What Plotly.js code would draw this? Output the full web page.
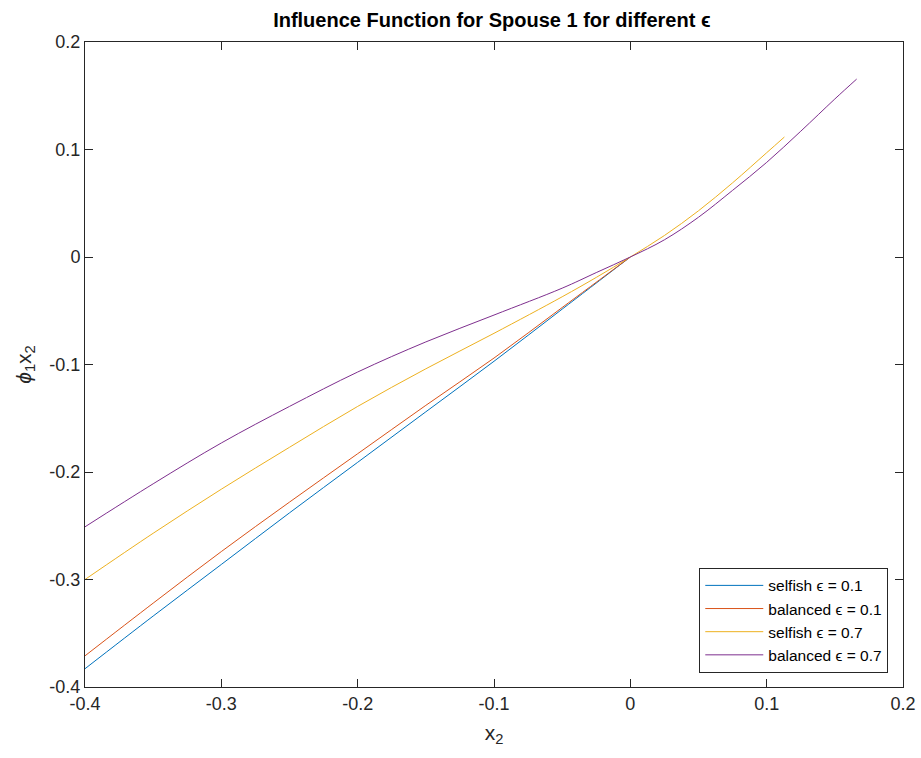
<!DOCTYPE html>
<html>
<head>
<meta charset="utf-8">
<script src="https://cdn.plot.ly/plotly-3.0.1.min.js"></script>
<style>html,body{margin:0;padding:0;background:#fff;}#chart{width:921px;height:758px;}</style>
</head>
<body>
<div id="chart"></div>
<script>
// ---- data ----
const xLeft = [-0.4, -0.35, -0.3, -0.25, -0.2, -0.15, -0.1, -0.05, 0];
const selfish01 = [-0.383, -0.334, -0.286, -0.238, -0.191, -0.144, -0.097, -0.0485, 0];
const balanced01 = [-0.371, -0.322, -0.274, -0.228, -0.183, -0.138, -0.094, -0.047, 0];

const xSelfish07 = [-0.4, -0.35, -0.3, -0.25, -0.2, -0.15, -0.1, -0.05, -0.025, 0, 0.025, 0.05, 0.075, 0.1, 0.113];
const selfish07 = [-0.300, -0.257, -0.216, -0.177, -0.139, -0.104, -0.071, -0.037, -0.019, 0, 0.020, 0.043, 0.069, 0.097, 0.1116];

const xBalanced07 = [-0.4, -0.35, -0.3, -0.25, -0.2, -0.15, -0.1, -0.05, -0.025, 0, 0.025, 0.05, 0.075, 0.1, 0.125, 0.15, 0.166];
const balanced07 = [-0.251, -0.211, -0.173, -0.139, -0.107, -0.079, -0.054, -0.029, -0.0145, 0, 0.016, 0.037, 0.062, 0.088, 0.117, 0.147, 0.1655];

const seriesNames = ['selfish \u03F5 = 0.1', 'balanced \u03F5 = 0.1', 'selfish \u03F5 = 0.7', 'balanced \u03F5 = 0.7'];
const xTickVals = [-0.4, -0.3, -0.2, -0.1, 0, 0.1, 0.2];
const xTickText = ['-0.4', '-0.3', '-0.2', '-0.1', '0', '0.1', '0.2'];
const yTickVals = [-0.4, -0.3, -0.2, -0.1, 0, 0.1, 0.2];
const yTickText = ['-0.4', '-0.3', '-0.2', '-0.1', '0', '0.1', '0.2'];

const colors = ['#0072BD', '#D95319', '#EDB120', '#7E2F8E'];
const xs = [xLeft, xLeft, xSelfish07, xBalanced07];
const ys = [selfish01, balanced01, selfish07, balanced07];

const traces = ys.map((y, i) => ({
  x: xs[i], y: y, type: 'scatter', mode: 'lines', name: seriesNames[i],
  line: {color: colors[i], width: 1, shape: 'spline', smoothing: 1}
}));

const font = 'Liberation Sans, Arial, Helvetica, sans-serif';
const axisCommon = {
  showgrid: false, zeroline: false, showline: true, mirror: 'ticks',
  linecolor: '#262626', linewidth: 1, ticks: 'inside', ticklen: 8,
  tickcolor: '#262626', tickwidth: 1, tickfont: {family: font, size: 18, color: '#262626'}
};

const layout = {
  width: 921, height: 758,
  margin: {l: 85, r: 18, t: 42, b: 71},
  paper_bgcolor: '#fff', plot_bgcolor: '#fff',
  showlegend: true,
  title: {text: '<b>Influence Function for Spouse 1 for different \u03F5</b>', font: {family: font, size: 20, color: '#000'},
          x: 0.534, xanchor: 'center', y: 0.973, yanchor: 'middle'},
  xaxis: Object.assign({}, axisCommon, {range: [-0.4, 0.2], tickvals: xTickVals, ticktext: xTickText,
          title: {text: 'x<sub>2</sub>', font: {family: font, size: 21, color: '#262626'}, standoff: 12}}),
  yaxis: Object.assign({}, axisCommon, {range: [-0.4, 0.2], tickvals: yTickVals, ticktext: yTickText,
          title: {text: '<i>\u03D5</i><sub>1</sub>x<sub>2</sub>', font: {family: font, size: 21, color: '#262626'}, standoff: 12}}),
  legend: {x: 0.982, xanchor: 'right', y: 0.022, yanchor: 'bottom', bgcolor: '#fff',
           bordercolor: '#262626', borderwidth: 1, font: {family: font, size: 15.5, color: '#000'},
           itemwidth: 58, tracegroupgap: 0}
};

Plotly.newPlot('chart', traces, layout, {displayModeBar: false, staticPlot: true});
</script>
</body>
</html>
